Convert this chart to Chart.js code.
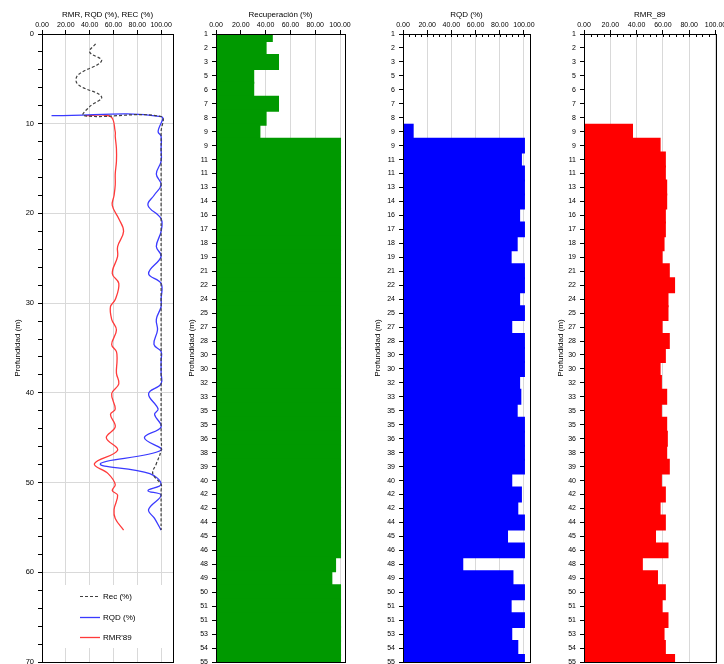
<!DOCTYPE html>
<html>
<head>
<meta charset="utf-8">
<title>Perfil geotécnico</title>
<script src="https://cdn.jsdelivr.net/npm/chart.js@4/dist/chart.umd.min.js"></script>
<style>
	html, body { margin: 0; padding: 0; background: #fff; overflow: hidden; width: 724px; height: 664px; }
	canvas { position: absolute; top: 0; }
</style>
</head>
<body>
<canvas id="cLines" width="180" height="680" style="left:0"></canvas>
<canvas id="cRec" width="180" height="680" style="left:180px"></canvas>
<canvas id="cRqd" width="180" height="680" style="left:360px"></canvas>
<canvas id="cRmr" width="200" height="680" style="left:545px"></canvas>
<script>
// Etiquetas de profundidad (m) tal como aparecen en los ejes de categorías
const depthLabels = ['1', '2', '3', '5', '6', '7', '8', '9', '9', '11', '11', '13', '14', '16', '17', '18', '19', '21', '22', '24', '25', '27', '28', '30', '30', '32', '33', '35', '35', '36', '38', '39', '40', '42', '42', '44', '45', '46', '48', '49', '50', '51', '51', '53', '54', '55'];

// Profundidad real de cada tramo (m), para el gráfico de líneas
const depths = [1.1, 2.0, 3.0, 4.6, 5.6, 7.0, 8.1, 9.1, 9.2, 10.9, 11.4, 12.8, 14.2, 15.6, 16.8, 18.0, 19.1, 20.6, 22.0, 23.7, 24.8, 26.7, 27.8, 29.6, 30.4, 31.8, 33.0, 34.6, 35.4, 36.4, 37.8, 39.0, 40.1, 41.8, 42.4, 43.8, 45.0, 46.4, 47.9, 49.0, 50.2, 50.9, 51.4, 53.0, 54.0, 55.3];

const recPct = [45, 40, 50, 30, 30, 50, 40, 35, 100, 100, 100, 100, 100, 100, 100, 100, 100, 100, 100, 100, 100, 100, 100, 100, 100, 100, 100, 100, 100, 100, 100, 100, 100, 100, 100, 100, 100, 100, 96, 93, 100, 100, 100, 100, 100, 100];

const rqdPct = [null, null, null, null, null, null, null, 8, 100, 97.5, 100, 100, 100, 96, 100, 94, 89, 100, 100, 96, 100, 89.5, 100, 100, 100, 96, 97, 94, 100, 100, 100, 100, 89.5, 97.5, 94.5, 100, 86, 100, 49, 90.5, 100, 89, 100, 89.5, 94.5, 100];

const rmr89 = [null, null, null, null, null, null, null, 36.5, 57.5, 61.5, 61.5, 62.5, 62.5, 61.5, 61.5, 60.5, 59, 64.5, 68.5, 63.5, 63.5, 59, 64.5, 61.5, 57.5, 58.5, 62.5, 58.5, 62.5, 63, 62.5, 64.5, 58.5, 61.5, 57.5, 61.5, 54, 63.5, 44, 55.5, 61.5, 59, 63.5, 60.5, 61.5, 68.5];

const seriesNames = ['Rec (%)', 'RQD (%)', "RMR'89"];
const seriesColors = ['#404040', '#3a3aff', '#ff3a3a'];

Chart.defaults.font.family = '"Liberation Sans", Arial, sans-serif';
Chart.defaults.color = '#000';

const GRID = '#d9d9d9';
const NONE = 'rgba(0,0,0,0)';

// Marco negro alrededor del área de trazado
const framePlugin = {
	id: 'frame',
	afterDatasetsDraw(chart) {
		const a = chart.chartArea;
		const ctx = chart.ctx;
		const l = Math.round( a.left ) + 0.5, t = Math.round( a.top ) + 0.5;
		const r = Math.round( a.right ) + 0.5, b = Math.round( a.bottom ) + 0.5;
		ctx.save();
		ctx.strokeStyle = '#000';
		ctx.lineWidth = 1;
		ctx.setLineDash( [] );
		ctx.strokeRect( l, t, r - l, b - t );
		ctx.restore();
	}
};

// Marcas menores hacia dentro en el eje superior
const innerTicks = {
	id: 'innerTicks',
	afterDatasetsDraw(chart, args, opts) {
		if ( ! opts || ! opts.step) {
			return;
		}
		const xs = chart.scales.x;
		const top = Math.round( chart.chartArea.top );
		const ctx = chart.ctx;
		ctx.save();
		ctx.strokeStyle = '#000';
		ctx.lineWidth = 1;
		ctx.beginPath();
		for (let v = opts.step; v < xs.max; v += opts.step) {
			const px = Math.round( xs.getPixelForValue( v ) ) + 0.5;
			ctx.moveTo( px, top );
			ctx.lineTo( px, top + 3 );
		}
		ctx.stroke();
		ctx.restore();
	}
};

// Leyenda dentro del área de trazado (panel de líneas)
const legendBox = {
	id: 'legendBox',
	afterDatasetsDraw(chart) {
		const ctx = chart.ctx;
		const a = chart.chartArea;
		ctx.save();
		ctx.setLineDash( [] );
		ctx.fillStyle = '#fff';
		ctx.fillRect( a.left + 1, 585, a.right - a.left - 2, 63 );
		ctx.font = '8px "Liberation Sans", Arial, sans-serif';
		ctx.textBaseline = 'middle';
		ctx.textAlign = 'left';
		for (let i = 0; i < seriesNames.length; i++) {
			const y = Math.round( 596 + i * 20.7 ) + 0.5;
			ctx.beginPath();
			ctx.setLineDash( i === 0 ? [3, 2] : [] );
			ctx.strokeStyle = seriesColors[i];
			ctx.lineWidth = i === 0 ? 1.2 : 1.3;
			ctx.moveTo( 80, y );
			ctx.lineTo( 100, y );
			ctx.stroke();
			ctx.setLineDash( [] );
			ctx.fillStyle = '#000';
			ctx.fillText( seriesNames[i], 103, y );
		}
		ctx.restore();
	}
};

function pctLabel(v) {
	return (v % 20 === 0 && v <= 100) ? v.toFixed( 2 ) : '';
}

function points(values) {
	return depths.map( (d, i) => ({ x: values[i], y: d }) ).filter( p => p.x !== null );
}

// Panel 1: RMR, RQD, REC frente a profundidad
new Chart(
	document.getElementById( 'cLines' ),
	{
		type: 'line',
		data: {
			datasets: [
				{ label: seriesNames[0], data: points( recPct ), borderColor: seriesColors[0], borderWidth: 1.2, borderDash: [3, 2], tension: 0.4, pointRadius: 0, fill: false },
				{ label: seriesNames[1], data: points( rqdPct ), borderColor: seriesColors[1], borderWidth: 1.3, tension: 0.4, pointRadius: 0, fill: false },
				{ label: seriesNames[2], data: points( rmr89 ), borderColor: seriesColors[2], borderWidth: 1.3, tension: 0.4, pointRadius: 0, fill: false }
			]
		},
		options: {
			indexAxis: 'y',
			responsive: false,
			animation: false,
			layout: { padding: { top: 0, right: 7, bottom: 18, left: 0 } },
			plugins: { legend: { display: false }, tooltip: { enabled: false } },
			scales: {
				x: {
					type: 'linear',
					position: 'top',
					min: 0,
					max: 110,
					afterFit: s => { s.height = 34; },
					border: { display: false },
					grid: { color: c => (c.tick && c.tick.value > 0 && c.tick.value <= 100) ? GRID : NONE, tickColor: '#000', tickLength: 4 },
					ticks: { stepSize: 20, includeBounds: false, autoSkip: false, maxRotation: 0, minRotation: 0, padding: 1, font: { size: 7 }, callback: pctLabel },
					title: { display: true, text: 'RMR, RQD (%), REC (%)', font: { size: 8 }, padding: { top: 9.5, bottom: 0 } }
				},
				y: {
					type: 'linear',
					reverse: true,
					min: 0,
					max: 70,
					afterFit: s => { s.width = 42; },
					border: { display: false },
					grid: { color: c => (c.tick && c.tick.value % 10 === 0 && c.tick.value > 0 && c.tick.value < 70) ? GRID : NONE, tickColor: '#000', tickLength: 4 },
					ticks: { stepSize: 2, autoSkip: false, padding: 4, font: { size: 7.5 }, callback: v => (v % 10 === 0 ? v : '') },
					title: { display: true, text: 'Profundidad (m)', font: { size: 8 }, padding: { top: 13, bottom: 0 } }
				}
			}
		},
		plugins: [legendBox, framePlugin]
	}
);

function barPanel(id, title, values, color, xMax, axisW, padRight, titlePad, minorStep) {
	new Chart(
		document.getElementById( id ),
		{
			type: 'bar',
			data: {
				labels: depthLabels,
				datasets: [{ label: title, data: values, backgroundColor: color, borderWidth: 0, inflateAmount: 1, barPercentage: 1, categoryPercentage: 1, clip: 0 }]
			},
			options: {
				indexAxis: 'y',
				responsive: false,
				animation: false,
				layout: { padding: { top: 0, right: padRight, bottom: 18, left: 0 } },
				plugins: { legend: { display: false }, tooltip: { enabled: false }, innerTicks: { step: minorStep } },
				scales: {
					x: {
						type: 'linear',
						position: 'top',
						min: 0,
						max: xMax,
						afterFit: s => { s.height = 34; },
						border: { display: false },
						grid: { color: c => (c.tick && c.tick.value > 0 && c.tick.value <= 100) ? GRID : NONE, tickColor: '#000', tickLength: 4 },
						ticks: { stepSize: 20, includeBounds: false, autoSkip: false, maxRotation: 0, minRotation: 0, padding: 1, font: { size: 7 }, callback: pctLabel },
						title: { display: true, text: title, font: { size: 8 }, padding: { top: 9.5, bottom: 0 } }
					},
					y: {
						type: 'category',
						offset: false,
						afterFit: s => { s.width = axisW; },
						border: { display: false },
						grid: { offset: false, drawOnChartArea: false, tickColor: '#000', tickLength: 4 },
						ticks: { autoSkip: false, padding: 4, font: { size: 7 } },
						title: { display: true, text: 'Profundidad (m)', font: { size: 8 }, padding: { top: titlePad, bottom: 0 } }
					}
				}
			},
			plugins: [innerTicks, framePlugin]
		}
	);
}

barPanel( 'cRec', 'Recuperación (%)', recPct, '#009900', 104, 36, 15, 7.2, 0 );
barPanel( 'cRqd', 'RQD (%)', rqdPct, '#0000ff', 105, 43, 10, 13.2, 5 );
barPanel( 'cRmr', 'RMR_89', rmr89, '#ff0000', 100, 39, 29.5, 11.2, 5 );
</script>
</body>
</html>
